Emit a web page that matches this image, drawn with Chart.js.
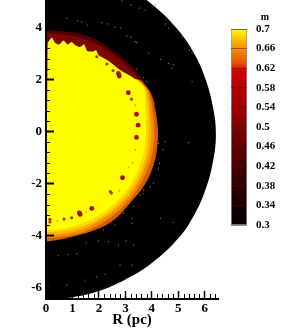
<!DOCTYPE html>
<html>
<head>
<meta charset="utf-8">
<title>m</title>
<script src="https://cdn.jsdelivr.net/npm/chart.js@4"></script>
<style>
    html, body { margin: 0; padding: 0; background: #fff; }
    #wrap { position: relative; width: 299px; height: 329px; overflow: hidden; }
    #map-chart { position: absolute; left: 0; top: 0; }
    #bar-chart { position: absolute; left: 225px; top: 0; }
</style>
</head>
<body>
<div id="wrap">
    <canvas id="map-chart" width="299" height="329"></canvas>
    <canvas id="bar-chart" width="74" height="329"></canvas>
</div>
<script>
// Axis ticks
const rTicks = [0, 1, 2, 3, 4, 5, 6];
const rMinorTicks = [0.2, 0.4, 0.6, 0.8, 1.2, 1.4, 1.6, 1.8, 2.2, 2.4, 2.6, 2.8, 3.2, 3.4, 3.6, 3.8, 4.2, 4.4, 4.6, 4.8, 5.2, 5.4, 5.6, 5.8, 6.2, 6.4];
const zTicks = [-6, -4, -2, 0, 2, 4];
const zMinorTicks = [-6.4, -5.6, -5.2, -4.8, -4.4, -3.6, -3.2, -2.8, -2.4, -1.6, -1.2, -0.8, -0.4, 0.4, 0.8, 1.2, 1.6, 2.4, 2.8, 3.2, 3.6, 4.4, 4.8];

// Colour bar
const levelTicks = [0.3, 0.34, 0.38, 0.42, 0.46, 0.5, 0.54, 0.58, 0.62, 0.66, 0.7];
const levelStops = [0.3, 0.34, 0.38, 0.42, 0.46, 0.5, 0.54, 0.58, 0.615, 0.63, 0.66, 0.68, 0.7];
const levelColors = ['#000000', '#180000', '#300000', '#480000', '#600000', '#800000', '#a00000', '#b40000', '#d00000', '#e85000', '#f09000', '#ffc000', '#ffff00'];

// Contour edges (R in pc, z in pc)
const diskR = [0, 1, 2, 3, 4, 5, 5.6, 6.0, 6.3, 6.42, 6.3, 6.0, 5.6, 5, 4, 3, 2, 1, 0];
const diskZ = [6.3, 6.22, 5.98, 5.55, 4.9, 3.9, 3.0, 2.1, 1.0, -0.1, -1.2, -2.3, -3.2, -4.1, -5.05, -5.68, -6.12, -6.36, -6.45];

const haloOuterR = [0, 0.53, 1.29, 2.05, 2.8, 3.37, 3.83, 4.1, 3, 0];
const haloOuterZ = [3.91, 3.87, 3.76, 3.45, 2.91, 2.37, 1.72, 1, 0.5, 0.5];
const haloInnerR = [0, 0.53, 1.29, 2.0, 2.75, 3.3, 3.75, 4.0, 3, 0];
const haloInnerZ = [3.78, 3.74, 3.62, 3.33, 2.8, 2.28, 1.68, 1, 0.5, 0.5];

const rim1R = [0, 3.45, 3.8, 4.0, 4.13, 4.23, 4.19, 4.0, 3.67, 3.18, 2.65, 2.05, 0.8, 0];
const rim1Z = [0, 1.98, 1.72, 1.38, 0.83, 0.07, -0.7, -1.47, -2.13, -2.74, -3.32, -3.7, -4.09, -4.23];
const rim2R = [0, 3.3, 3.77, 3.95, 4.03, 4.1, 4.03, 3.8, 3.44, 2.95, 2.35, 1.67, 0.92, 0];
const rim2Z = [0, 2.0, 1.72, 1.3, 0.78, 0, -0.78, -1.54, -2.23, -2.85, -3.36, -3.75, -3.99, -4.1];
const rim3R = [0, 3.25, 3.74, 3.88, 3.93, 3.98, 3.91, 3.69, 3.34, 2.86, 2.28, 1.62, 0.9, 0];
const rim3Z = [0, 2.0, 1.72, 1.3, 0.76, 0, -0.76, -1.49, -2.17, -2.77, -3.26, -3.64, -3.88, -3.98];
const rim4R = [0, 3.2, 3.72, 3.8, 3.85, 3.88, 3.81, 3.6, 3.26, 2.79, 2.23, 1.58, 0.87, 0];
const rim4Z = [0, 2.0, 1.7, 1.3, 0.75, 0, -0.74, -1.46, -2.11, -2.7, -3.18, -3.55, -3.78, -3.88];

const coreR = [0, 0.85, 1.54, 2.17, 2.72, 3.17, 3.5, 3.71, 3.78, 3.75, 3.74, 3.7, 3.3, 2.8, 2.3, 1.98, 1.89, 1.79, 1.56, 1.44, 1.29, 1.14, 0.96, 0.82, 0.66, 0.5, 0.34, 0.22, 0.06];
const coreZ = [-3.8, -3.68, -3.45, -3.1, -2.63, -2.06, -1.42, -0.72, 0, 0.73, 1.3, 1.7, 2.07, 2.37, 2.76, 2.95, 3.14, 3.08, 3.1, 3.36, 3.25, 3.3, 3.45, 3.35, 3.5, 3.35, 3.42, 3.62, 3.4];

// Low-m clumps inside the core
const clumpR = [3.42, 3.48, 3.42, 3.11, 2.89, 2.77, 2.74, 1.73, 1.29, 1.26];
const clumpZ = [0.67, 0.25, -0.22, 1.5, -1.77, 2.14, 2.24, -2.95, -3.18, -3.12];
const smallClumpR = [2.30, 2.53, 3.23, 2.47, 2.43, 0.97, 0.68, 1.92, 0.15, 0.15];
const smallClumpZ = [2.6, 2.35, 1.25, -2.36, -2.3, -3.31, -3.36, 2.88, -3.37, -3.47];
const faintClumpR = [3.37, 3.37, 3.27, 3.12, 2.77, 1.52, 0.43];
const faintClumpZ = [1.02, -0.7, -1.19, -1.38, -2.27, -3.1, -3.43];

// Pale specks scattered over the black region
const speckR = [0.78, 1.19, 1.35, 1.56, 2.11, 2.32, 2.61, 2.83, 3.06, 3.21, 3.37, 3.43, 2.87, 3.21, 3.53, 3.75, 3.88, 3.43, 3.69, 3.81,
    4.13, 4.51, 4.63, 5.14, 5.43, 5.52, 4.32, 4.63, 4.76, 5.52, 5.39, 4.51, 4.25,
    0.47, 0.84, 1.16, 1.52, 1.98, 2.36, 2.74, 3.03, 3.31, 2.17, 2.61, 3.25, 3.56, 3.69, 0.78, 1.48, 1.92, 2.23, 2.8, 3.25, 0.09,
    4.32, 4.8, 4.25, 4.42, 4.29, 4.06, 3.94, 3.69, 3.31, 2.93, 3.25, 4.82];
const speckZ = [4.36, 4.26, 4.22, 4.1, 4.19, 4.14, 4.02, 3.98, 3.68, 3.63, 3.46, 3.42, 5.03, 4.87, 4.75, 4.68, 3.02, 2.4, 2.08, 1.92,
    4.87, 4.14, 3.98, 3.65, 3.14, 3.02, 2.78, 2.63, 2.44, 1.92, -0.42, -0.38, -0.45,
    -4.77, -4.72, -4.69, -4.27, -4.2, -4.23, -4.36, -4.2, -4.36, -3.78, -3.59, -3.33, -2.43, -2.24, -5.9, -5.7, -5.58, -5.48, -5.13, -5.13, -5.96,
    -3.33, -3.48, -1.43, -0.7, -1.22, -1.98, -2.12, -2.37, -2.88, -3.14, -3.52, 2.57];

const serif = '"Liberation Serif", serif';

function toPoints(rs, zs) {
    return rs.map((r, i) => ({ x: r, y: zs[i] }));
}

function filledLayer(rs, zs, color, tension) {
    return {
        data: toPoints(rs, zs),
        showLine: true,
        fill: 'shape',
        backgroundColor: color,
        borderWidth: 0,
        pointRadius: 0,
        tension: tension
    };
}

function dots(rs, zs, color, radius) {
    return {
        data: toPoints(rs, zs),
        showLine: false,
        backgroundColor: color,
        borderWidth: 0,
        pointRadius: radius
    };
}

// the labels' padding must not push the plot area in
function fixedBox(axis, side, size) {
    axis[side] = size;
    axis.paddingTop = 0;
    axis.paddingBottom = 0;
    axis.paddingLeft = 0;
    axis.paddingRight = 0;
}

// Short inward ticks between the labelled ones
const minorTickPlugin = {
    id: 'minorTicks',
    afterDatasetsDraw(chart) {
        const { ctx, scales, chartArea } = chart;
        ctx.save();
        ctx.strokeStyle = '#000';
        ctx.lineWidth = 1;
        ctx.beginPath();
        rMinorTicks.forEach(v => {
            const px = Math.round(scales.x.getPixelForValue(v)) + 0.5;
            ctx.moveTo(px, chartArea.bottom);
            ctx.lineTo(px, chartArea.bottom - 5);
        });
        zMinorTicks.forEach(v => {
            const py = Math.round(scales.y.getPixelForValue(v)) + 0.5;
            ctx.moveTo(chartArea.left, py);
            ctx.lineTo(chartArea.left + 4, py);
        });
        ctx.stroke();
        ctx.restore();
    }
};

new Chart(document.getElementById('map-chart'), {
    type: 'scatter',
    plugins: [minorTickPlugin],
    data: {
        // first dataset ends up on top
        datasets: [
            dots(clumpR, clumpZ, '#a80c00', 2.4),
            dots(smallClumpR, smallClumpZ, '#b83400', 1.6),
            dots(faintClumpR, faintClumpZ, '#f0a000', 1),
            filledLayer(coreR, coreZ, '#ffff00', 0.2),
            filledLayer(rim4R, rim4Z, '#ffdc00', 0.4),
            filledLayer(rim3R, rim3Z, '#ffb400', 0.4),
            filledLayer(rim2R, rim2Z, '#f08c00', 0.4),
            filledLayer(rim1R, rim1Z, '#d85c00', 0.4),
            filledLayer(haloInnerR, haloInnerZ, '#7c0600', 0.3),
            filledLayer(haloOuterR, haloOuterZ, '#500000', 0.3),
            dots(speckR, speckZ, '#8c8c8c', 0.6),
            filledLayer(diskR, diskZ, '#000000', 0.4)
        ]
    },
    options: {
        responsive: false,
        animation: false,
        layout: { autoPadding: false, padding: { left: 0, top: 0, right: 81, bottom: 0 } },
        plugins: { legend: { display: false }, tooltip: { enabled: false } },
        scales: {
            x: {
                type: 'linear',
                min: 0,
                max: 6.5,
                afterBuildTicks: axis => { axis.ticks = rTicks.map(v => ({ value: v })); },
                afterFit: axis => fixedBox(axis, 'height', 30),
                border: { color: '#000', width: 2, z: 2 },
                grid: { drawOnChartArea: false, tickLength: -8, tickColor: '#000', tickWidth: 1.5, z: 2 },
                ticks: { color: '#000', maxRotation: 0, padding: 10, font: { family: serif, size: 13, weight: 'bold' } },
                title: { display: true, text: 'R (pc)', color: '#000', padding: 0, font: { family: serif, size: 15, weight: 'bold' } }
            },
            y: {
                type: 'linear',
                min: -6.43,
                max: 5.06,
                afterBuildTicks: axis => { axis.ticks = zTicks.map(v => ({ value: v })); },
                afterFit: axis => fixedBox(axis, 'width', 46),
                border: { color: '#000', width: 2, z: 2 },
                grid: { drawOnChartArea: false, tickLength: -8, tickColor: '#000', tickWidth: 2, z: 2 },
                ticks: { color: '#000', padding: 12, font: { family: serif, size: 13, weight: 'bold' } }
            }
        }
    }
});

new Chart(document.getElementById('bar-chart'), {
    type: 'bar',
    data: {
        labels: ['m'],
        datasets: [{
            data: [[levelTicks[0], levelTicks[levelTicks.length - 1]]],
            barPercentage: 1,
            categoryPercentage: 1,
            borderColor: '#9c9c9c',
            borderWidth: 1,
            borderSkipped: false,
            backgroundColor: function(context) {
                const { ctx, chartArea, scales } = context.chart;
                if (!chartArea) return '#000';
                const y0 = scales.y.getPixelForValue(levelTicks[0]);
                const y1 = scales.y.getPixelForValue(levelTicks[levelTicks.length - 1]);
                const gradient = ctx.createLinearGradient(0, y0, 0, y1);
                levelStops.forEach((v, i) => {
                    gradient.addColorStop((v - levelStops[0]) / (levelStops[levelStops.length - 1] - levelStops[0]), levelColors[i]);
                });
                return gradient;
            }
        }]
    },
    options: {
        responsive: false,
        animation: false,
        layout: { autoPadding: false, padding: { left: 6, top: 0, right: 0, bottom: 104 } },
        plugins: {
            legend: { display: false },
            tooltip: { enabled: false },
            title: {
                display: true,
                text: 'm',
                color: '#000',
                padding: { top: 11, bottom: 6 },
                font: { family: serif, size: 10, weight: 'bold' }
            }
        },
        scales: {
            x: { display: false },
            y: {
                position: 'right',
                min: 0.3,
                max: 0.7,
                afterBuildTicks: axis => { axis.ticks = levelTicks.map(v => ({ value: v })); },
                afterFit: axis => fixedBox(axis, 'width', 52),
                border: { display: false },
                grid: { color: 'rgba(70, 20, 20, 0.5)', drawTicks: false, z: 1 },
                ticks: { color: '#000', padding: 9, font: { family: serif, size: 11, weight: 'bold' }, callback: v => String(v) }
            }
        }
    }
});
</script>
</body>
</html>
